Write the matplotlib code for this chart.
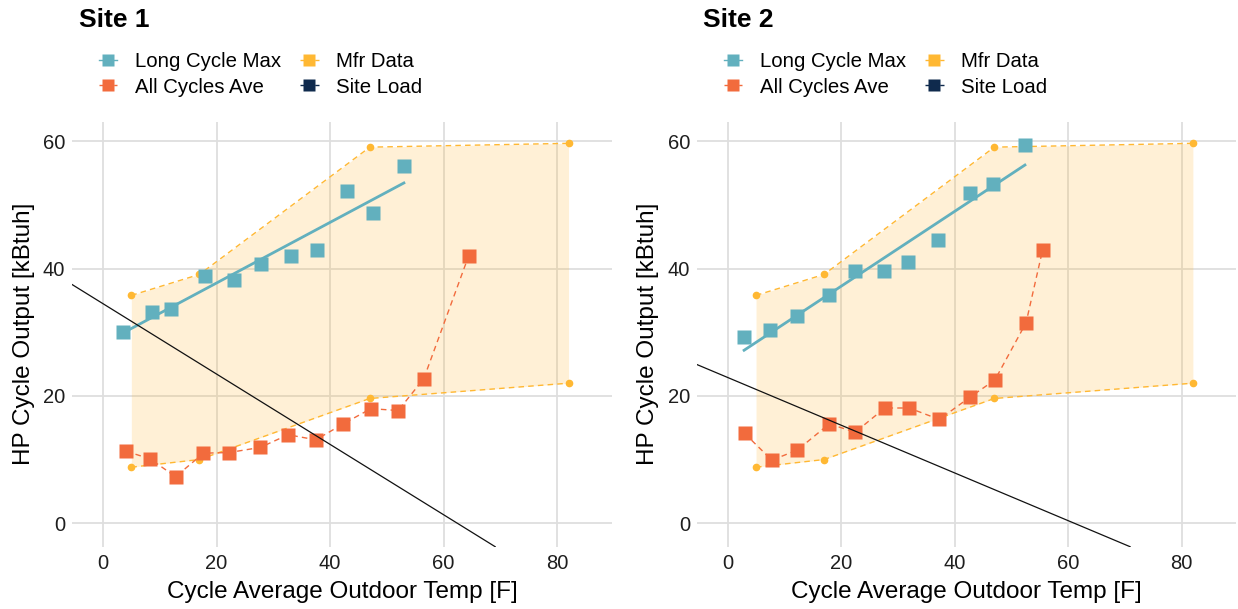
import numpy as np
import matplotlib.pyplot as plt
from matplotlib.lines import Line2D

plt.rcParams['font.family'] = ['Liberation Sans', 'DejaVu Sans']

# manufacturer envelope (same unit at both sites)
mfr_temp = [5, 17, 47, 82]
mfr_high = [35.8, 39.1, 59.1, 59.7]
mfr_low = [8.8, 10.0, 19.6, 22.0]

# site 1
s1_lcm_temp = [3.5, 8.7, 12.0, 17.9, 23.0, 27.8, 33.1, 37.7, 42.9, 47.5, 53.0]
s1_lcm_out = [30.1, 33.2, 33.7, 38.9, 38.2, 40.7, 42.0, 42.9, 52.2, 48.7, 56.1]
s1_ave_temp = [4.1, 8.3, 12.8, 17.7, 22.2, 27.7, 32.6, 37.5, 42.3, 47.2, 52.0, 56.5, 64.4]
s1_ave_out = [11.3, 10.1, 7.3, 11.0, 11.1, 11.9, 13.9, 13.1, 15.6, 18.0, 17.7, 22.7, 42.0]
s1_load = (34.5, -0.553)   # intercept, slope

# site 2
s2_lcm_temp = [2.9, 7.5, 12.2, 17.9, 22.5, 27.6, 31.8, 37.0, 42.7, 46.8, 52.4]
s2_lcm_out = [29.3, 30.3, 32.6, 35.9, 39.6, 39.6, 41.0, 44.5, 51.9, 53.3, 59.4]
s2_ave_temp = [3.0, 7.8, 12.3, 17.9, 22.5, 27.7, 32.0, 37.3, 42.7, 47.1, 52.6, 55.5]
s2_ave_out = [14.1, 9.9, 11.5, 15.6, 14.3, 18.1, 18.1, 16.3, 19.8, 22.5, 31.5, 42.9]
s2_load = (22.9, -0.375)

TEAL = '#62B0BE'
ORANGE = '#F26B3D'
MFR = '#FFB833'
NAVY = '#0F2A4D'
W, H = 1238, 609

fig = plt.figure(figsize=(W / 100, H / 100), dpi=100)


def draw_site(rect, title, lcm_t, lcm_y, ave_t, ave_y, load, title_x, leg_x):
    ax = fig.add_axes(rect)
    ax.fill_between(mfr_temp, mfr_low, mfr_high, color=MFR, alpha=0.2,
                    linewidth=0, zorder=1)
    for y in (mfr_high, mfr_low):
        ax.plot(mfr_temp, y, color=MFR, ls=(0, (4, 3)), lw=1.0,
                marker='o', ms=4.5, zorder=2)
    ax.plot(ave_t, ave_y, color=ORANGE, ls=(0, (4, 3)), lw=1.0, zorder=3)
    ax.plot(ave_t, ave_y, color=ORANGE, ls='none', marker='s', ms=9.5,
            mec='none', zorder=4)
    ax.plot(lcm_t, lcm_y, color=TEAL, ls='none', marker='s', ms=9.5,
            mec='none', zorder=4)
    # linear fit through long cycle max points
    k, b = np.polyfit(lcm_t, lcm_y, 1)
    xs = np.array([min(lcm_t), max(lcm_t)])
    ax.plot(xs, k * xs + b, color=TEAL, lw=2.0, zorder=5)
    ax.axline((0, load[0]), slope=load[1], color='#111111', lw=0.9, zorder=6)

    ax.set_xlim(-5.4, 89.6)
    ax.set_ylim(-3.7, 63.1)
    ax.set_xticks([0, 20, 40, 60, 80])
    ax.set_yticks([0, 20, 40, 60])
    ax.grid(True, color='#DEDEDE', lw=1.3)
    ax.set_axisbelow(True)
    for s in ax.spines.values():
        s.set_visible(False)
    ax.tick_params(length=0, labelsize=14.5, labelcolor='#1e1e1e', pad=5)
    ax.set_xlabel('Cycle Average Outdoor Temp [F]', fontsize=17.5, labelpad=6)
    ax.set_ylabel('HP Cycle Output [kBtuh]', fontsize=17.5, labelpad=6)

    fig.text(title_x / W, 1 - 8 / H, title, fontsize=19, fontweight='bold',
             ha='left', va='top')
    handles = [
        Line2D([], [], color=TEAL, marker='s', ms=9, mec='none', lw=1),
        Line2D([], [], color=ORANGE, marker='s', ms=9, mec='none', lw=1, ls='--'),
        Line2D([], [], color=MFR, marker='s', ms=9, mec='none', lw=1, ls='--'),
        Line2D([], [], color=NAVY, marker='s', ms=9, mec='none', lw=1, ls='--'),
    ]
    labels = ['Long Cycle Max', 'All Cycles Ave', 'Mfr Data', 'Site Load']
    fig.legend(handles, labels, loc='upper left', ncol=2, frameon=False,
               bbox_to_anchor=(leg_x / W, 1 - 52 / H), fontsize=14.7,
               handlelength=0.9, handletextpad=0.85, columnspacing=0.95,
               labelspacing=0.32, borderpad=0, borderaxespad=0)
    return ax


draw_site([72.3 / W, 62.3 / H, 539.4 / W, 425 / H], 'Site 1',
          s1_lcm_temp, s1_lcm_out, s1_ave_temp, s1_ave_out, s1_load, 79, 99)
draw_site([697 / W, 62.3 / H, 539 / W, 425 / H], 'Site 2',
          s2_lcm_temp, s2_lcm_out, s2_ave_temp, s2_ave_out, s2_load, 703, 724)

fig.savefig('out.png', dpi=100)
